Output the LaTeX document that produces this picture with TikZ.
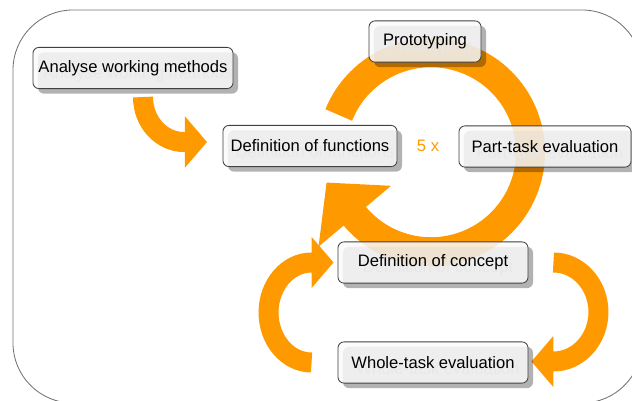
\documentclass[tikz,border=0pt]{standalone}
\usepackage{xcolor}
\usepackage{fontspec}
\setmainfont{Liberation Sans}
\usepackage{tikz}
\usetikzlibrary{arrows.meta,calc,shadows}

\definecolor{FlowOrange}{HTML}{FF9900}
\newcommand{\GhostText}[1]{\rlap{\hspace*{0.125cm}\raisebox{-0.15cm}[0pt][0pt]{\textcolor{black!9}{#1}}}#1}

\pgfdeclarelayer{background}
\pgfsetlayers{background,main}

\tikzset{
  BaseNode/.style = {align=center, inner sep=0pt, text centered, font=\fontsize{11.8}{14}\selectfont},
  StepNode/.style = {BaseNode, rectangle, rounded corners=0.15cm, draw=black!75, line width=0.6pt,
                     fill=black!2, fill opacity=0.84, text opacity=1, minimum height=1.03cm,
                     drop shadow={shadow xshift=0.125cm, shadow yshift=-0.125cm, fill=black, opacity=0.3}},
  CountNode/.style = {BaseNode, text=FlowOrange},
  FrameBox/.style = {draw=black!55, line width=0.6pt, rounded corners=1.5cm},
  FlowArrow/.style = {draw=FlowOrange, line width=0.5cm, -{Triangle[width=1.25cm, length=0.55cm]}},
  CycleArrow/.style = {draw=FlowOrange, line width=0.725cm, -{Triangle[width=2.3cm, length=1.1cm]}},
}

\begin{document}
\begin{tikzpicture}[x=0.025cm, y=0.025cm]
    \useasboundingbox (0,0) rectangle (632,-401);
    \clip (0,0) rectangle (632,-401);
    \draw [FrameBox] (13,-10) rectangle (642,-403);

    \node [StepNode, minimum width=5cm] (analyse) at (133,-68) {\GhostText{Analyse working methods}};
    \node [StepNode, minimum width=4.35cm] (functions) at (310,-146) {\GhostText{Definition of functions}};
    \node [StepNode, minimum width=2.8cm] (proto) at (425,-41.5) {\GhostText{Prototyping}};
    \node [StepNode, minimum width=4.3cm] (parttask) at (545,-146.5) {\GhostText{Part-task evaluation}};
    \node [StepNode, minimum width=4.75cm] (concept) at (433,-262.5) {\GhostText{Definition of concept}};
    \node [StepNode, minimum width=4.75cm] (whole) at (433,-362.5) {\GhostText{Whole-task evaluation}};
    \node [CountNode] (fivex) at ($(functions.east)!0.5!(parttask.west)$) {5 x};
    \coordinate (ring) at ($(fivex)+(3,-6)$);

    \begin{pgfonlayer}{background}
        \draw [FlowArrow] ($(analyse.south)+(10,-8)$) arc[start angle=180, end angle=270, x radius=41, y radius=45] -- ++(23,0);
        \draw [CycleArrow] ([shift={(158:99.5)}]ring) arc[start angle=158, end angle=-140, radius=99.5] -- ++(130:44);
        \draw [FlowArrow] ($(whole.west)+(-26,0)$) arc[start angle=-90, end angle=-270, x radius=43, y radius=50] -- ++(22,0);
        \draw [FlowArrow] ($(concept.east)+(25,0)$) arc[start angle=90, end angle=-90, x radius=45, y radius=49.5] -- ++(-22,0);
    \end{pgfonlayer}
\end{tikzpicture}
\end{document}
